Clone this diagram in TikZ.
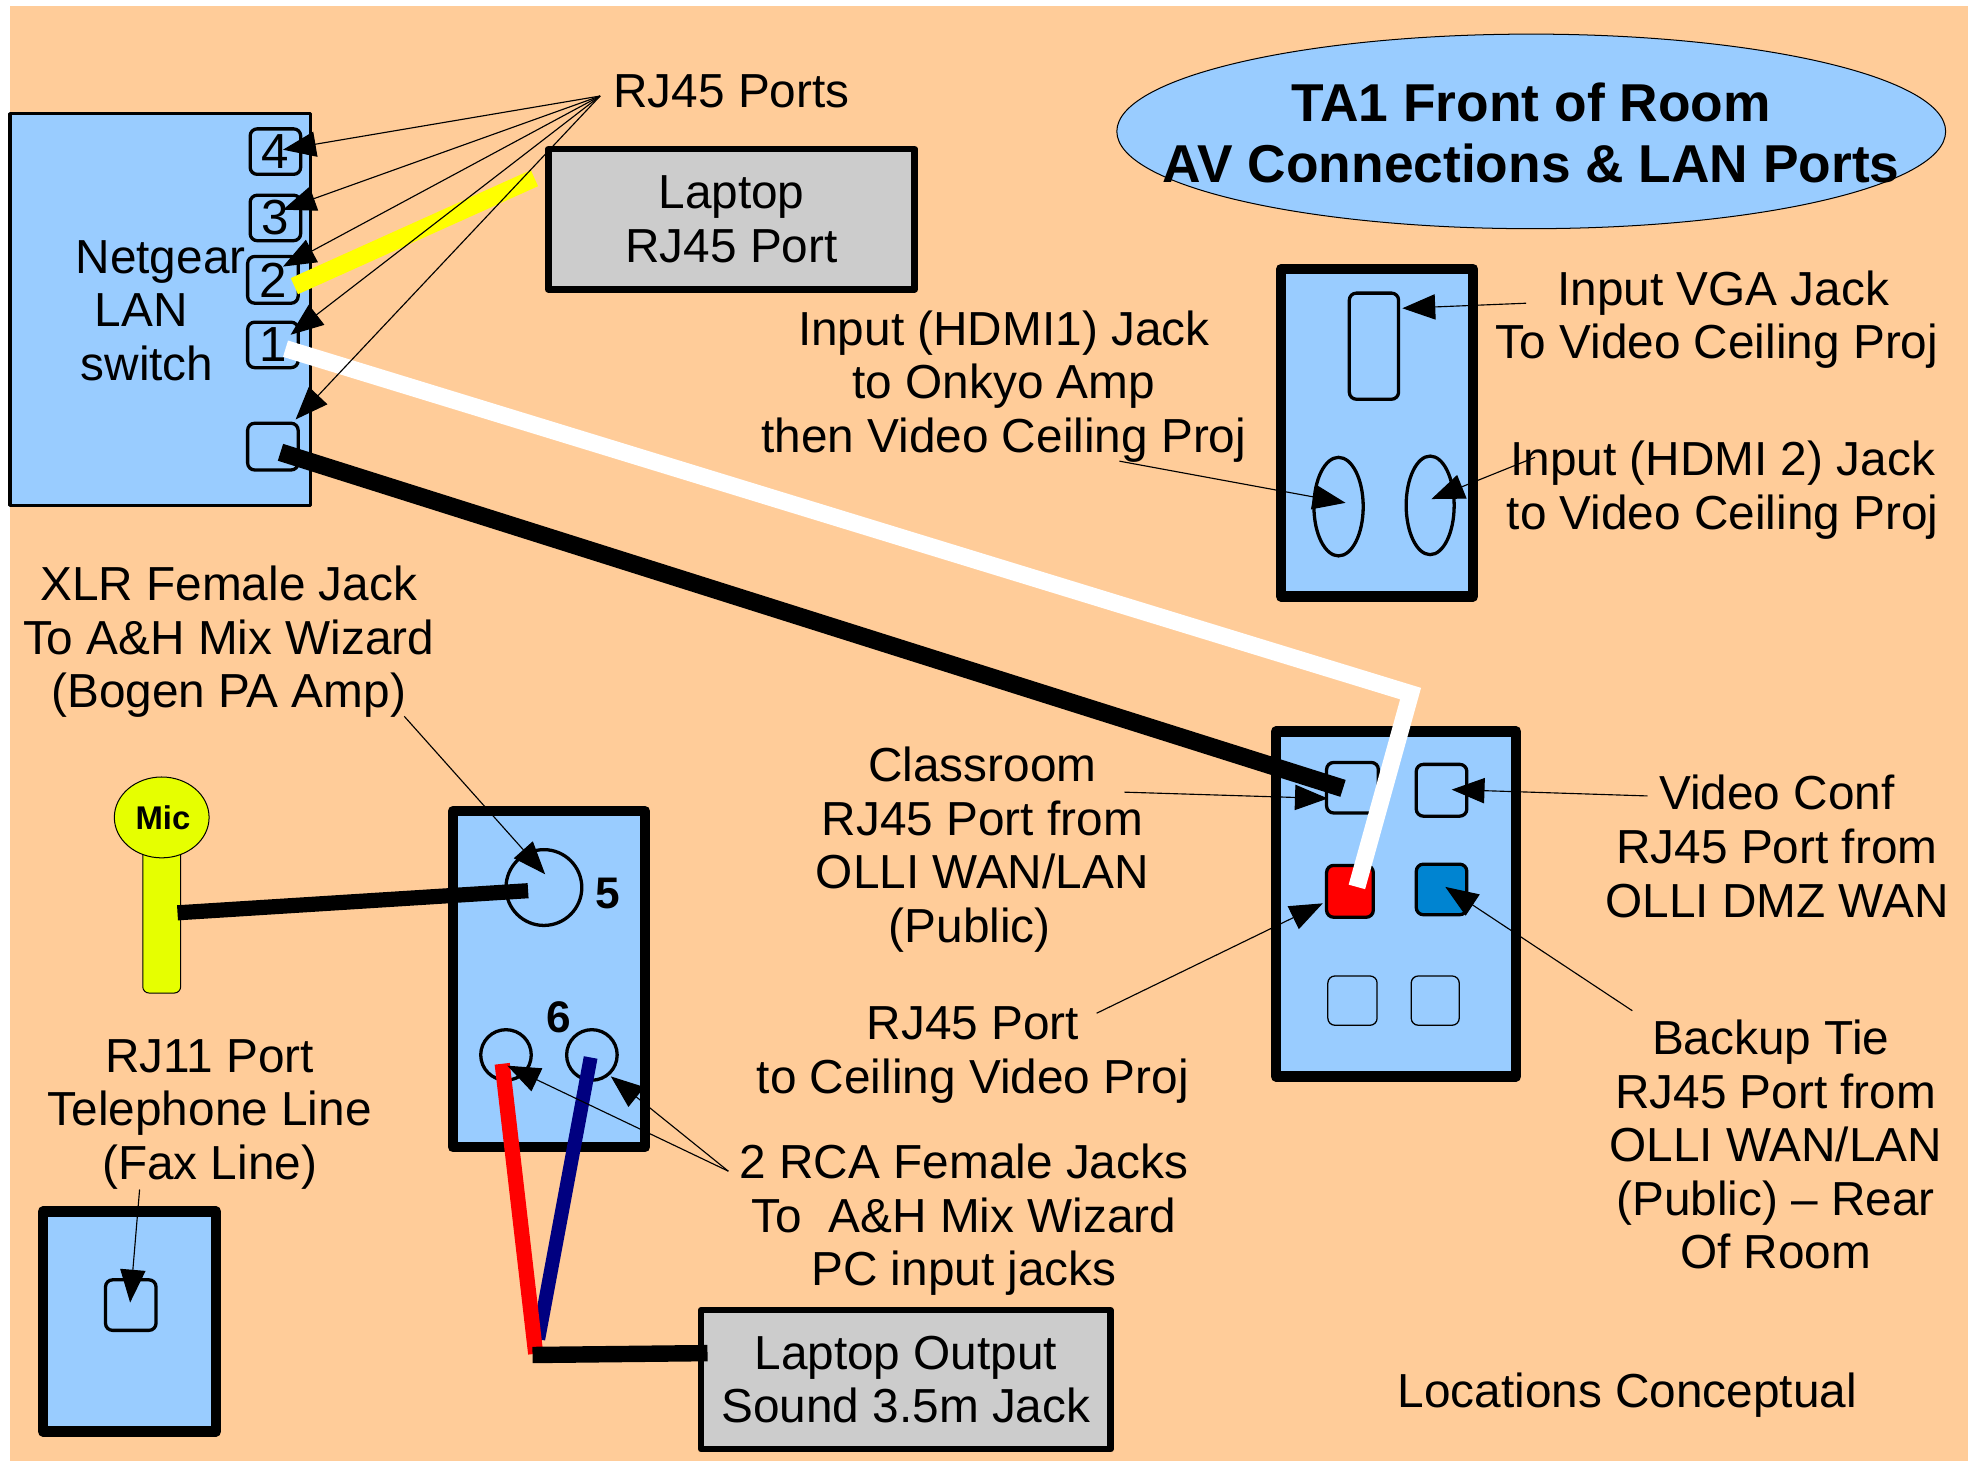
\documentclass[tikz,border=0pt]{standalone}
\usepackage{fontspec}
\setmainfont{Liberation Sans}
\usetikzlibrary{arrows.meta,shapes.geometric}
\definecolor{peach}{HTML}{FFCC99}
\definecolor{skyb}{HTML}{99CCFF}
\definecolor{greyb}{HTML}{CCCCCC}
\definecolor{micy}{HTML}{E6FF00}
\definecolor{blueport}{HTML}{0084D1}
\definecolor{navyc}{HTML}{000080}
\definecolor{yellowc}{HTML}{FFFF00}
\definecolor{redc}{HTML}{FF0000}
\tikzset{
  x=0.5pt,y=-0.5pt,
  boxdim/.style 2 args={minimum width=#1*0.5pt,minimum height=#2*0.5pt},
  txt/.style={inner sep=0pt,align=center,font=\fontsize{18.9pt}{21.2pt}\selectfont},
  plate/.style={draw=black,fill=skyb,line width=4.2pt,line join=round,inner sep=0pt},
  gbox/.style={draw=black,fill=greyb,line width=2.6pt,line join=round,inner sep=0pt,align=center,font=\fontsize{18.9pt}{21.2pt}\selectfont},
  portb/.style={draw=black,fill=skyb,line width=1.3pt,rounded corners=2.8pt,inner sep=0pt,font=\fontsize{19.5pt}{21.2pt}\selectfont},
  faint/.style={portb,line width=0.5pt},
  jack/.style={draw=black,fill=skyb,line width=1.3pt,inner sep=0pt},
  callout/.style={line width=0.45pt,-{Triangle[length=13pt,width=10pt]},shorten >=0pt},
  cable/.style={line width=#1*0.5pt,line cap=butt,line join=miter},
  boldnum/.style={inner sep=0pt,font=\bfseries\fontsize{17.5pt}{20pt}\selectfont},
}
\begin{document}
\begin{tikzpicture}
\useasboundingbox (0,0) rectangle (1568,1156);
\fill[peach] (8,5) rectangle (1558,1156);

% Netgear switch
\node[draw=black,fill=skyb,line width=1.3pt,line join=round,inner sep=0pt,boxdim={238}{310}] (switch) at (127,245) {};
\node[txt,align=left,anchor=west] (netlabel) at (59.5,246) {Netgear\\\hspace*{7.5pt}LAN\\\hspace*{2pt}switch};
\node[portb,boxdim={40}{36}] (p4) at (218,120) {4};
\node[portb,boxdim={40}{36}] (p3) at (218,172.5) {3};
\node[portb,boxdim={40}{37}] (p2) at (216,221.5) {2};
\node[portb,boxdim={40}{36}] (p1) at (216,273) {1};
\node[portb,boxdim={40}{37}] (p0) at (216,353.5) {};

% Laptop RJ45
\node[gbox,boxdim={290}{111}] (laptop) at (579,173.5) {\raisebox{-0.5pt}{Laptop}\\\raisebox{-0.5pt}{RJ45 Port}};

% Title
\node[draw=black,line width=0.4pt,fill=skyb,ellipse,inner sep=0pt,boxdim={656}{154}] (title) at (1212,104) {};
\node[inner sep=0pt,align=center,font=\bfseries\fontsize{21.1pt}{24pt}\selectfont] (titletext) at (1212,105) {TA1 Front of Room\\AV Connections \& LAN Ports};

% VGA plate
\node[plate,boxdim={152}{259}] (vgaplate) at (1090,342.5) {};
\node[portb,boxdim={39}{84}] (vga) at (1087.5,274) {};
\node[jack,ellipse,boxdim={39}{78}] (hdmione) at (1059.5,401) {};
\node[jack,ellipse,boxdim={38}{78}] (hdmitwo) at (1132,400) {};

% Wall plate right
\node[plate,boxdim={190}{273}] (wall) at (1105,715.5) {};
\node[portb,boxdim={41}{40}] (classroom) at (1070.5,623.5) {};
\node[portb,boxdim={40}{41}] (videoconf) at (1141,625.5) {};
\node[portb,fill=redc,boxdim={37}{41}] (redport) at (1068.5,705.5) {};
\node[portb,fill=blueport,boxdim={40}{40}] (blueprt) at (1141,704) {};
\node[faint,boxdim={39}{39}] (blanka) at (1070.5,792) {};
\node[faint,boxdim={38}{39}] (blankb) at (1136,792) {};

% Audio plate
\node[plate,boxdim={152}{266}] (audio) at (434.5,775) {};
\node[jack,circle,minimum size=30pt] (five) at (430.5,702.5) {};
\node[jack,circle,minimum size=20pt] (rcal) at (400.5,835) {};
\node[jack,circle,minimum size=20pt] (rcar) at (468.5,835) {};
\node[boldnum] (lfive) at (481,707) {5};
\node[boldnum] (lsix) at (442,805) {6};

% Mic
\node[draw=black,line width=0.4pt,fill=micy,rounded corners=2.5pt,inner sep=0pt,boxdim={30}{122}] (micbody) at (128,725) {};
\node[draw=black,line width=0.4pt,fill=micy,ellipse,inner sep=0pt,boxdim={75}{64}] (mic) at (128,647) {};
\node[inner sep=0pt,font=\bfseries\fontsize{13pt}{15pt}\selectfont] (miclabel) at (129,647) {Mic};

% RJ11 plate
\node[plate,boxdim={137}{174}] (rjplate) at (102.5,1046) {};
\node[portb,boxdim={40}{40}] (rj11) at (103.5,1033) {};

% Laptop output
\node[gbox,boxdim={324}{110}] (sound) at (717,1092) {Laptop Output\\Sound 3.5m Jack};

% Text labels
\node[txt] (trj) at (579,72) {RJ45 Ports};
\node[txt] (tvga) at (1359,253) {\hspace*{5pt}Input VGA Jack\\To Video Ceiling Proj};
\node[txt] (thone) at (794.5,306) {Input (HDMI1) Jack\\to Onkyo Amp\\then Video Ceiling Proj};
\node[txt] (thtwo) at (1363.5,388) {Input (HDMI 2) Jack\\to Video Ceiling Proj};
\node[txt] (tclass) at (777.5,672.5) {Classroom\\RJ45 Port from\\OLLI WAN/LAN\\(Public)\hspace*{10pt}};
\node[txt] (tvideo) at (1406.5,670) {Video Conf\\RJ45 Port from\\OLLI DMZ WAN};
\node[txt] (tceil) at (770,835) {RJ45 Port\\to Ceiling Video Proj};
\node[txt] (tback) at (1405.5,906) {Backup Tie\hspace*{4pt}\\RJ45 Port from\\OLLI WAN/LAN\\(Public) – Rear\\Of Room};
\node[txt] (tloc) at (1288,1104) {Locations Conceptual};
\node[txt] (txlr) at (181,508) {XLR Female Jack\\To A\&H Mix Wizard\\(Bogen PA Amp)};
\node[txt] (trjel) at (166,882) {RJ11 Port\\Telephone Line\\(Fax Line)};
\node[txt] (trca) at (763,965.5) {2 RCA Female Jacks\\To\ \ A\&H Mix Wizard\\PC input jacks};

% Connector end points
\coordinate (srj) at (475,76);
\coordinate (t4) at (224,118.5);
\coordinate (t3) at (224,166);
\coordinate (t2) at (224,211);
\coordinate (t1) at (230,265);
\coordinate (t0) at (234,332);
\coordinate (yella) at (233,226.5);
\coordinate (yellb) at (423,141);
\coordinate (wa) at (226,276);
\coordinate (wb) at (1116.5,549);
\coordinate (wc) at (1074,702);
\coordinate (ba) at (222,358);
\coordinate (bb) at (1063,624);
\coordinate (mica) at (140.5,722.5);
\coordinate (micb) at (418,705);
\coordinate (reda) at (397.5,842);
\coordinate (redb) at (424,1071.5);
\coordinate (bluea) at (467.5,837);
\coordinate (blueb) at (426,1060);
\coordinate (outa) at (421.5,1072.5);
\coordinate (outb) at (560,1071);
\coordinate (svga) at (1208,240);
\coordinate (tvgap) at (1110,244);
\coordinate (shone) at (886,365);
\coordinate (thonep) at (1065,398);
\coordinate (shtwo) at (1215,362);
\coordinate (thtwop) at (1133,395);
\coordinate (sclass) at (890,627);
\coordinate (tclassp) at (1051,632);
\coordinate (svideo) at (1304,630);
\coordinate (tvideop) at (1149,625);
\coordinate (sceil) at (868,802);
\coordinate (tceilp) at (1047,715);
\coordinate (sback) at (1292,800);
\coordinate (tbackp) at (1144,702);
\coordinate (sxlr) at (320,567);
\coordinate (txlrp) at (431.5,692);
\coordinate (srca) at (576.5,927);
\coordinate (trcal) at (401.5,843.5);
\coordinate (trcar) at (483.5,852);
\coordinate (srjel) at (110.5,941.5);
\coordinate (trjelp) at (103,1031);

% Cables
\draw[cable=14,yellowc] (yella) -- (yellb);
\draw[cable=13.5,white] (wa) -- (wb) -- (wc);
\draw[cable=14,black] (ba) -- (bb);
\draw[cable=12,black] (mica) -- (micb);
\draw[cable=11,navyc] (bluea) -- (blueb);
\draw[cable=12,redc] (reda) -- (redb);
\draw[cable=13,black] (outa) -- (outb);

% Callouts
\foreach \tip in {t4,t3,t2,t1,t0} \draw[callout] (srj) -- (\tip);
\draw[callout] (svga) -- (tvgap);
\draw[callout] (shone) -- (thonep);
\draw[callout] (shtwo) -- (thtwop);
\draw[callout] (sclass) -- (tclassp);
\draw[callout] (svideo) -- (tvideop);
\draw[callout] (sceil) -- (tceilp);
\draw[callout] (sback) -- (tbackp);
\draw[callout] (sxlr) -- (txlrp);
\draw[callout] (srca) -- (trcal);
\draw[callout] (srca) -- (trcar);
\draw[callout] (srjel) -- (trjelp);
\end{tikzpicture}
\end{document}
